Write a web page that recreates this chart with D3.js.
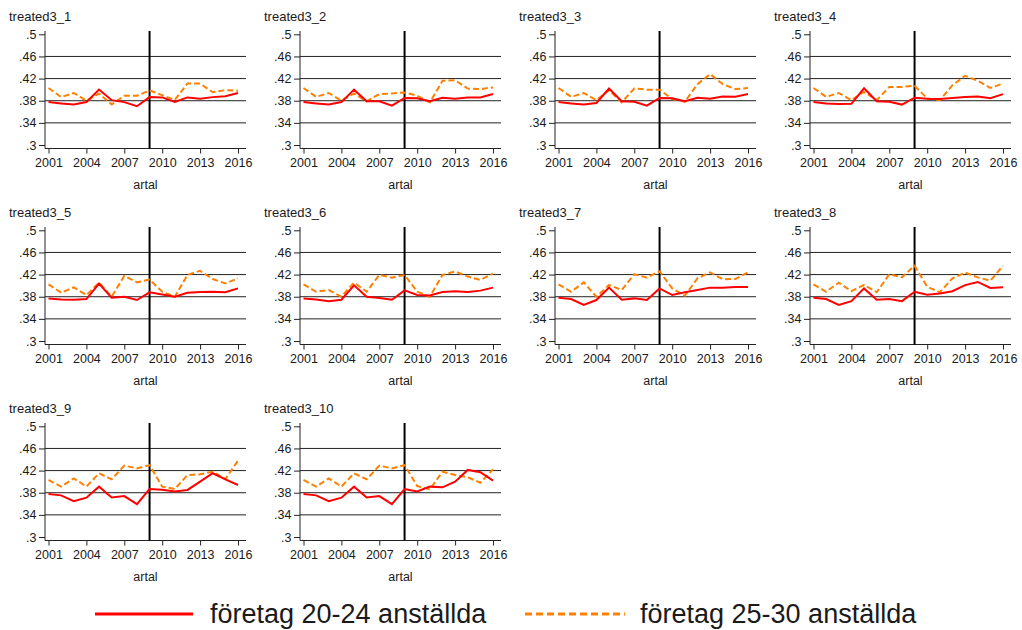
<!DOCTYPE html>
<html lang="en">

<head>
    <meta charset="utf-8">
    <title>treated3 panels</title>
    <script src="https://d3js.org/d3.v7.min.js"></script>
    <style>
        body {
            margin: 0;
            background: white;
        }

        text {
            font-family: "Liberation Sans", Arial, sans-serif;
            fill: #1a1a1a;
        }
    </style>
</head>

<body>
    <div id="chart"></div>

    <script>

        const years = d3.range(2001, 2017);
        const xTicks = [2001, 2004, 2007, 2010, 2013, 2016];
        const yTicks = [0.3, 0.34, 0.38, 0.42, 0.46, 0.5];
        const gridTicks = [0.34, 0.38, 0.42, 0.46];
        const cutYear = 2009;
        const panelNames = ['treated3_1', 'treated3_2', 'treated3_3', 'treated3_4', 'treated3_5',
            'treated3_6', 'treated3_7', 'treated3_8', 'treated3_9', 'treated3_10'];
        const seriesNames = ['företag 20-24 anställda', 'företag 25-30 anställda'];

        // företag 20-24 anställda, one row per panel
        const small = [
            [.3775, .375, .373, .3775, .4003, .381, .3775, .370, .3865, .386, .378, .386, .3835, .3865, .388, .394],
            [.3775, .375, .373, .3775, .400, .379, .379, .371, .385, .3845, .379, .3855, .3835, .386, .386, .392],
            [.3775, .375, .373, .376, .402, .379, .378, .371, .385, .3845, .379, .3855, .3835, .3875, .387, .392],
            [.3775, .375, .374, .3745, .4025, .379, .378, .373, .3855, .3835, .383, .385, .3865, .3875, .3845, .392],
            [.377, .375, .3745, .3758, .4036, .378, .380, .374, .388, .384, .380, .387, .3885, .389, .388, .395],
            [.377, .375, .372, .3745, .4006, .380, .3776, .3745, .3915, .383, .3824, .3885, .390, .3885, .391, .3964],
            [.378, .3758, .365, .374, .3964, .3745, .377, .374, .395, .383, .388, .392, .3964, .3964, .3976, .3976],
            [.378, .3758, .365, .372, .395, .3745, .3758, .372, .389, .3836, .386, .390, .401, .4067, .3958, .397],
            [.3776, .3752, .3648, .371, .391, .3715, .374, .3594, .3867, .3855, .382, .385, .400, .4152, .4042, .394],
            [.3776, .3752, .3648, .371, .391, .3715, .374, .3594, .3867, .3824, .391, .3897, .400, .4212, .417, .4018]
        ];

        // företag 25-30 anställda, one row per panel
        const large = [
            [.403, .3865, .394, .380, .393, .373, .389, .389, .3985, .390, .3815, .411, .411, .3955, .399, .398],
            [.403, .387, .394, .380, .393, .379, .392, .393, .395, .389, .377, .416, .417, .402, .401, .404],
            [.403, .387, .394, .381, .399, .377, .402, .400, .400, .383, .378, .410, .428, .410, .401, .403],
            [.403, .387, .394, .381, .396, .381, .405, .405, .407, .384, .381, .408, .425, .416, .403, .411],
            [.4024, .3873, .397, .383, .4055, .380, .4176, .406, .411, .389, .380, .4194, .4267, .412, .404, .4133],
            [.4024, .389, .392, .380, .4055, .389, .4194, .4145, .4194, .389, .380, .4194, .4255, .4164, .4103, .4218],
            [.4024, .389, .406, .380, .4012, .392, .4206, .4145, .426, .395, .3818, .4133, .424, .4115, .412, .424],
            [.4024, .389, .4055, .390, .4012, .388, .4206, .415, .436, .398, .388, .4133, .4236, .415, .409, .4358],
            [.403, .391, .406, .391, .415, .4042, .429, .424, .430, .391, .3867, .412, .4133, .418, .4048, .438],
            [.403, .391, .406, .391, .415, .4042, .429, .424, .430, .392, .386, .418, .412, .408, .398, .4224]
        ];

        const svgWidth = 1022, svgHeight = 630;
        const colWidth = 255, rowHeight = 196, nCols = 4;
        const axisLeftX = 45, axisRightX = 246, plotTop = 31, axisY = 148.5;
        const smallColor = '#ff0000', largeColor = '#ff8000';

        const svg = d3.select('#chart')
            .append('svg')
            .attr('width', svgWidth)
            .attr('height', svgHeight);

        const scaleX = d3.scaleLinear()
            .domain([2001, 2016])
            .range([48.5, 238]);

        const scaleY = d3.scaleLinear()
            .domain([0.3, 0.5])
            .range([145, 34.3]);

        const yFormat = d => d3.format('.2~f')(d).replace(/^0/, '');

        function drawPanel(i) {
            const col = i % nCols, row = Math.floor(i / nCols);
            const g = svg.append('g')
                .attr('transform', 'translate(' + (col * colWidth) + ',' + (row * rowHeight) + ')');

            g.append('text')
                .attr('x', 9)
                .attr('y', 20.5)
                .attr('font-size', '13px')
                .text(panelNames[i]);

            // grid lines
            g.selectAll('.grid')
                .data(gridTicks)
                .join('line')
                .attr('x1', axisLeftX)
                .attr('x2', axisRightX)
                .attr('y1', d => scaleY(d))
                .attr('y2', d => scaleY(d))
                .attr('stroke', '#222')
                .attr('stroke-width', 1);

            const yAxis = d3.axisLeft(scaleY)
                .tickValues(yTicks)
                .tickFormat(yFormat)
                .tickSize(6)
                .tickPadding(2.5);
            const yG = g.append('g')
                .attr('transform', 'translate(' + axisLeftX + ',0)')
                .call(yAxis);
            yG.select('.domain').remove();
            yG.selectAll('text').attr('font-size', '12.5px').attr('font-family', null);
            yG.selectAll('line').attr('stroke', '#222');

            const xAxis = d3.axisBottom(scaleX)
                .tickValues(xTicks)
                .tickFormat(d3.format('d'))
                .tickSize(5)
                .tickPadding(5);
            const xG = g.append('g')
                .attr('transform', 'translate(0,' + axisY + ')')
                .call(xAxis);
            xG.select('.domain').remove();
            xG.selectAll('text').attr('font-size', '12.5px').attr('font-family', null);
            xG.selectAll('line').attr('stroke', '#222');

            // axis lines
            g.append('line')
                .attr('x1', axisLeftX).attr('x2', axisLeftX)
                .attr('y1', plotTop).attr('y2', axisY)
                .attr('stroke', '#222');
            g.append('line')
                .attr('x1', axisLeftX).attr('x2', axisRightX)
                .attr('y1', axisY).attr('y2', axisY)
                .attr('stroke', '#222');

            g.append('text')
                .attr('x', (axisLeftX + axisRightX) / 2)
                .attr('y', 188.5)
                .attr('text-anchor', 'middle')
                .attr('font-size', '12.5px')
                .text('artal');

            // reform year
            g.append('line')
                .attr('x1', scaleX(cutYear)).attr('x2', scaleX(cutYear))
                .attr('y1', plotTop).attr('y2', axisY)
                .attr('stroke', '#000')
                .attr('stroke-width', 2);

            const line = d3.line()
                .x((d, k) => scaleX(years[k]))
                .y(d => scaleY(d));

            g.append('path')
                .datum(large[i])
                .attr('fill', 'none')
                .attr('stroke', largeColor)
                .attr('stroke-width', 2)
                .attr('stroke-dasharray', '6,3')
                .attr('d', line);

            g.append('path')
                .datum(small[i])
                .attr('fill', 'none')
                .attr('stroke', smallColor)
                .attr('stroke-width', 2)
                .attr('d', line);
        }

        panelNames.forEach((name, i) => drawPanel(i));

        // legend
        const legend = svg.append('g');
        legend.append('line')
            .attr('x1', 95).attr('x2', 193)
            .attr('y1', 614).attr('y2', 614)
            .attr('stroke', smallColor)
            .attr('stroke-width', 3);
        legend.append('text')
            .attr('x', 210).attr('y', 623)
            .attr('font-size', '27px')
            .text(seriesNames[0]);
        legend.append('line')
            .attr('x1', 525).attr('x2', 625)
            .attr('y1', 614).attr('y2', 614)
            .attr('stroke', largeColor)
            .attr('stroke-width', 3)
            .attr('stroke-dasharray', '7,4');
        legend.append('text')
            .attr('x', 640).attr('y', 623)
            .attr('font-size', '27px')
            .text(seriesNames[1]);

    </script>
</body>

</html>
